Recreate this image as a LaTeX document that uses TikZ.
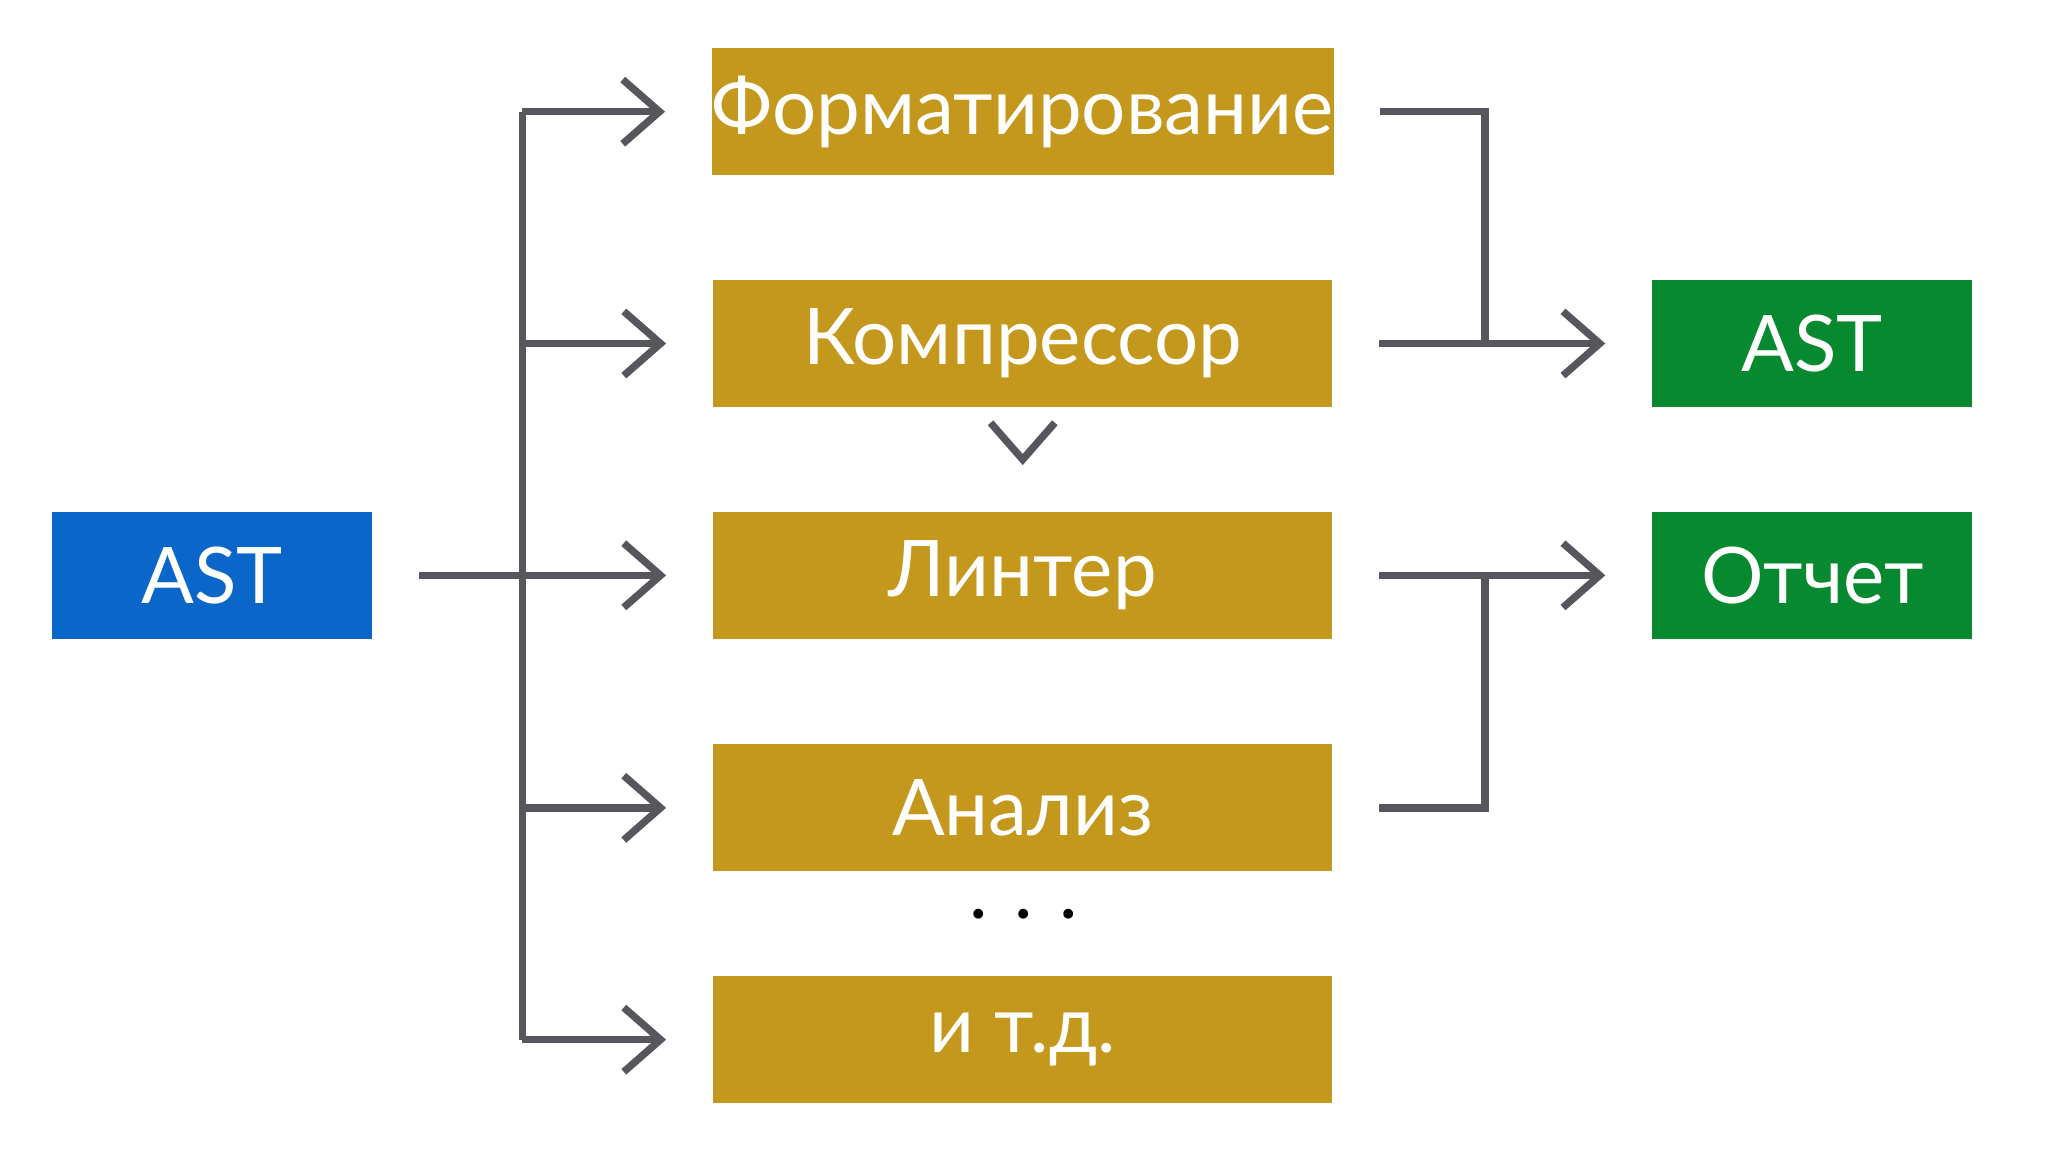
\documentclass[tikz,border=0pt]{standalone}
\usepackage{fontspec}
\setmainfont{Lato}
\usetikzlibrary{arrows.meta}
\definecolor{ybox}{HTML}{C3981C}
\definecolor{bbox}{HTML}{0A66C8}
\definecolor{gbox}{HTML}{06892F}
\definecolor{arr}{HTML}{55575C}
\begin{document}
\begin{tikzpicture}[x=0.01cm,y=-0.01cm,
  box/.style={minimum width=4.74cm,minimum height=0.97cm,inner sep=0,text=white,font=\fontsize{17}{20}\selectfont},
  sbox/.style={box,minimum width=2.45cm},
  ln/.style={draw=arr,line width=1.6pt},
  ar/.style={ln,-{Straight Barb[length=8pt,width=14pt,line width=1.6pt]}}]
\useasboundingbox (0,0) rectangle (1568,882);
\node[box,fill=ybox] (f) at (783,85.5) {Форматирование};
\node[box,fill=ybox] (k) at (783,263) {Компрессор};
\node[box,fill=ybox] (l) at (783,440.5) {Линтер};
\node[box,fill=ybox] (a) at (783,618.5) {Анализ};
\node[box,fill=ybox] (e) at (783,796) {и т.д.};
\node[sbox,fill=bbox] (s) at (162.5,440.5) {AST};
\node[sbox,fill=gbox] (g) at (1387.5,263) {AST};
\node[sbox,fill=gbox] (o) at (1387.5,440.5) {Отчет};
\node[font=\fontsize{17}{20}\selectfont] (d) at (784,700) {. . .};
\coordinate (t1) at (400,85.5);
\coordinate (t2) at (400,796);
\coordinate (r1) at (1137,85.5);
\coordinate (r2) at (1137,618.5);
\draw[ln] (t1) -- (t2);
\draw[ar] ([xshift=10]s.east) -- ([xshift=-10]l.west);
\foreach \n in {f,k,a,e} \draw[ar] (t1|-\n.west) -- ([xshift=-10]\n.west);
\draw[ar] ([yshift=-10]k.south) -- ([yshift=10]l.north);
\draw[ln] ([xshift=10]f.east) -- (r1) -- (r1|-g.west);
\draw[ar] ([xshift=10]k.east) -- ([xshift=-10]g.west);
\draw[ar] ([xshift=10]l.east) -- ([xshift=-10]o.west);
\draw[ln] ([xshift=10]a.east) -- (r2) -- (r2|-o.west);
\end{tikzpicture}
\end{document}
